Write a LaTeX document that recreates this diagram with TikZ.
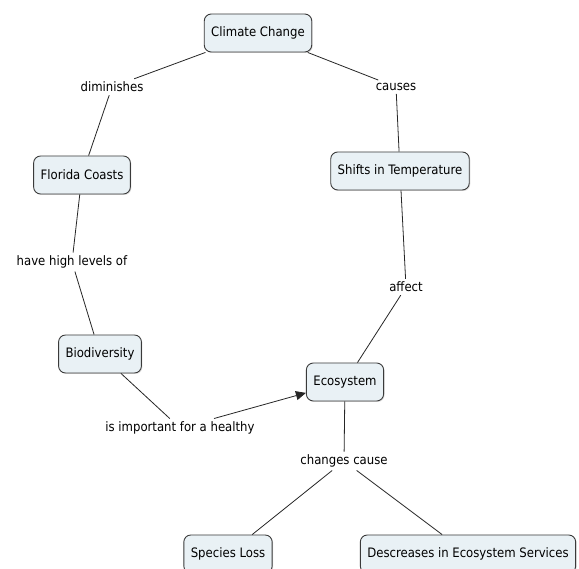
\documentclass[tikz,border=0pt]{standalone}
\usepackage{fontspec}
\setmainfont{DejaVu Sans Condensed}
\usetikzlibrary{arrows.meta,shadows}
\definecolor{boxfill}{HTML}{E9F1F5}
\definecolor{boxline}{HTML}{3A3A3A}
\begin{document}
\begin{tikzpicture}[x=1pt,y=-1pt,
  concept/.style={draw=boxline,line width=0.9pt,fill=boxfill,rounded corners=7pt,
    font=\fontsize{13}{15}\selectfont,inner xsep=7pt,minimum height=38pt,
    drop shadow={shadow xshift=1pt,shadow yshift=-1pt,opacity=0.25}},
  link/.style={font=\fontsize{13}{15}\selectfont,inner sep=3pt,fill=white},
  conn/.style={draw=black!85,line width=0.8pt}]
\useasboundingbox[fill=white] (0,0) rectangle (579,569);
\node[concept] (cc) at (258,33) {Climate Change};
\node[concept] (fc) at (82,175) {Florida Coasts};
\node[concept] (st) at (400,171) {Shifts in Temperature};
\node[concept] (bd) at (100,354) {Biodiversity};
\node[concept] (es) at (345,382) {Ecosystem};
\node[concept] (sl) at (228,554) {Species Loss};
\node[concept] (ds) at (468,554) {Descreases in Ecosystem Services};
\node[link] (l1) at (112,87) {diminishes};
\node[link] (l2) at (396,87) {causes};
\node[link] (l3) at (72,262) {have high levels of};
\node[link] (l4) at (406,287) {affect};
\node[link] (l5) at (180,428) {is important for a healthy};
\node[link] (l6) at (344,461) {changes cause};
\draw[conn] (cc) -- (l1);
\draw[conn] (l1) -- (fc);
\draw[conn] (cc) -- (l2);
\draw[conn] (l2) -- (st);
\draw[conn] (fc) -- (l3);
\draw[conn] (l3) -- (bd);
\draw[conn] (st) -- (l4);
\draw[conn] (l4) -- (es);
\draw[conn] (bd) -- (l5);
\draw[conn,-{Triangle[length=10pt,width=9pt]}] (l5) -- (es);
\draw[conn] (es) -- (l6);
\draw[conn] (l6) -- (sl);
\draw[conn] (l6) -- (ds);
\end{tikzpicture}
\end{document}
